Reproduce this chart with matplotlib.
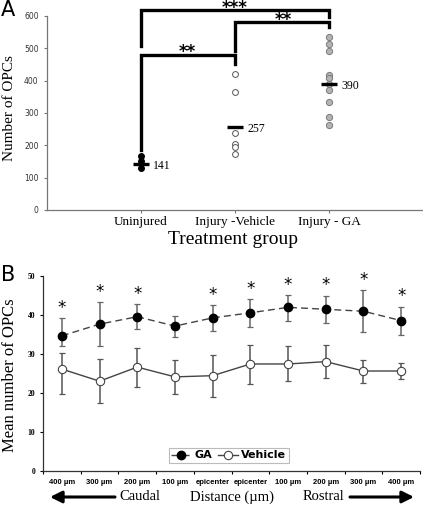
import numpy as np
import matplotlib
matplotlib.use("Agg")
import matplotlib.pyplot as plt

# ---- panel A data ----
groups = ["Uninjured", "Injury -Vehicle", "Injury - GA"]
uninjured_pts = [168, 150, 131]
vehicle_pts = [422, 364, 239, 205, 196, 174]
ga_pts = [535, 513, 491, 417, 408, 389, 371, 334, 288, 262]
group_means = [141, 257, 390]

# ---- panel B data ----
dist_labels = ["400 µm", "300 µm", "200 µm", "100 µm", "epicenter",
               "epicenter", "100 µm", "200 µm", "300 µm", "400 µm"]
ga_mean = [34.6, 37.6, 39.5, 37.1, 39.2, 40.5, 41.9, 41.4, 40.9, 38.5]
ga_hi = [39.1, 43.3, 42.7, 39.7, 42.5, 44.0, 45.0, 44.9, 46.3, 42.1]
ga_lo = [32.1, 31.9, 36.3, 34.4, 35.9, 36.8, 38.5, 37.9, 35.5, 34.9]
veh_mean = [26.1, 23.0, 26.6, 24.1, 24.4, 27.4, 27.4, 28.0, 25.6, 25.6]
veh_hi = [30.1, 28.6, 31.6, 28.4, 29.7, 32.3, 32.0, 32.2, 28.5, 27.7]
veh_lo = [19.7, 17.5, 21.4, 19.8, 19.0, 22.4, 23.0, 23.7, 22.6, 23.5]
signif = [True, True, True, False, True, True, True, True, True, True]

SERIF = "Liberation Serif"
W, H = 423, 505

fig = plt.figure(figsize=(W / 100, H / 100), dpi=100)

# ================= Panel A =================
axA = fig.add_axes([47 / W, 1 - 210 / H, 1 - 47 / W, (210 - 16) / H])
axA.set_xlim(0, 4)
axA.set_ylim(0, 600)

xs = [1, 2, 3]
axA.plot([1] * len(uninjured_pts), uninjured_pts, "o", ms=4, color="black", zorder=3)
axA.plot([2] * len(vehicle_pts), vehicle_pts, "o", ms=4.2, mfc="white", mec="#555555", mew=0.7, zorder=3)
axA.plot([3] * len(ga_pts), ga_pts, "o", ms=4.5, mfc="#b4b4b4", mec="#7a7a7a", mew=0.7, zorder=3)

for x, m in zip(xs, group_means):
    axA.plot([x - 0.085, x + 0.085], [m, m], color="black", lw=2.4, solid_capstyle="butt", zorder=4)
    axA.text(x + 0.13, m - 5, str(m), family=SERIF, fontsize=8.5, va="center", ha="left")

# significance brackets
def bracket(x1, x2, y1, ytop, y2, label, lx, ly):
    axA.plot([x1, x1, x2, x2], [y1, ytop, ytop, y2], color="black", lw=2.4,
             solid_joinstyle="miter", clip_on=False, zorder=2)
    axA.text(lx, ly, label, ha="center", va="baseline", fontsize=12, fontweight="bold",
             clip_on=False)

bracket(1, 2, 187, 478, 450, "**", 1.49, 474)
bracket(2, 3, 492, 582, 566, "**", 2.51, 573)
bracket(1, 3, 506, 618, 598, "***", 2.0, 609)

axA.set_xticks(xs)
axA.set_xticklabels(groups, family=SERIF, fontsize=9.5)
axA.set_yticks(range(0, 601, 100))
axA.tick_params(axis="y", labelsize=5.5, labelcolor="#333333", length=2.5, color="#777777", width=0.8)
axA.tick_params(axis="x", length=2.5, color="#777777", width=0.8, pad=1.5)
for s in ["top", "right"]:
    axA.spines[s].set_visible(False)
for s in ["left", "bottom"]:
    axA.spines[s].set_color("#777777")
    axA.spines[s].set_linewidth(0.9)

fig.text(10 / W, 1 - 108 / H, "Number of OPCs", family=SERIF, fontsize=11,
         rotation=90, ha="center", va="center")
fig.text(233 / W, 1 - 239 / H, "Treatment group", family=SERIF, fontsize=14,
         ha="center", va="center")
fig.text(1 / W, 1 - 10 / H, "A", fontsize=15, ha="left", va="center")

# ================= Panel B =================
axB = fig.add_axes([43 / W, 1 - 471 / H, 377 / W, (471 - 275.7) / H])
axB.set_xlim(0, 10)
axB.set_ylim(0, 50)
xb = np.arange(len(dist_labels)) + 0.5

ga_err = [np.array(ga_mean) - np.array(ga_lo), np.array(ga_hi) - np.array(ga_mean)]
veh_err = [np.array(veh_mean) - np.array(veh_lo), np.array(veh_hi) - np.array(veh_mean)]

axB.errorbar(xb, veh_mean, yerr=veh_err, fmt="none", ecolor="#555555", elinewidth=1.1,
             capsize=2, capthick=0.9, zorder=2)
axB.errorbar(xb, ga_mean, yerr=ga_err, fmt="none", ecolor="#666666", elinewidth=1.1,
             capsize=2, capthick=0.9, zorder=2)
l_ga, = axB.plot(xb, ga_mean, color="#444444", lw=1, ls=(0, (5, 3)), marker="o", ms=6,
                 mfc="black", mec="black", zorder=3, label="GA")
l_veh, = axB.plot(xb, veh_mean, color="#444444", lw=1, ls="-", marker="o", ms=6,
                  mfc="white", mec="#444444", mew=0.8, zorder=3, label="Vehicle")

for x, top, s in zip(xb, ga_hi, signif):
    if s:
        axB.text(x, top + 0.3, "*", ha="center", va="bottom", fontsize=12)

axB.set_xticks(xb)
axB.set_xticklabels(dist_labels, family="Liberation Sans", fontsize=5.5, fontweight="bold")
axB.set_xticks(np.arange(0, 11), minor=True)
axB.tick_params(axis="x", which="major", length=0, pad=6)
axB.tick_params(axis="x", which="minor", length=2.5, width=0.8)
axB.set_yticks(range(0, 51, 10))
axB.set_yticklabels([str(v) for v in range(0, 51, 10)], family=SERIF, fontsize=5.5,
                    fontweight="bold")
axB.tick_params(axis="y", length=2.5, width=0.8, pad=3)
for s in ["top", "right"]:
    axB.spines[s].set_visible(False)
for s in ["left", "bottom"]:
    axB.spines[s].set_linewidth(0.9)
    axB.spines[s].set_color("#333333")

leg = axB.legend(handles=[l_ga, l_veh], loc="lower center", bbox_to_anchor=(0.493, 0.04),
                 ncol=2, frameon=True, fancybox=False, edgecolor="#aaaaaa",
                 prop={"weight": "bold", "size": 8}, handlelength=1.8, handletextpad=0.3,
                 columnspacing=0.5, borderpad=0.25, borderaxespad=0)
leg.get_frame().set_linewidth(0.8)

fig.text(10 / W, 1 - 375 / H, "Mean number of OPCs", family=SERIF, fontsize=12,
         rotation=90, ha="center", va="center")
fig.text(1 / W, 1 - 275 / H, "B", fontsize=15, ha="left", va="center")

ytxt = 1 - 497 / H
fig.text(140 / W, ytxt, "Caudal", family=SERIF, fontsize=10.5, ha="center", va="center")
fig.text(232 / W, ytxt, "Distance (µm)", family=SERIF, fontsize=10.5, ha="center", va="center")
fig.text(323 / W, ytxt, "Rostral", family=SERIF, fontsize=10.5, ha="center", va="center")
arrow_style = dict(arrowstyle="-|>,head_width=0.35,head_length=0.7", lw=2.2, color="black",
                   shrinkA=0, shrinkB=0)
axB.annotate("", xy=(50 / W, ytxt), xytext=(115 / W, ytxt), xycoords="figure fraction",
             textcoords="figure fraction", arrowprops=arrow_style, annotation_clip=False)
axB.annotate("", xy=(414 / W, ytxt), xytext=(350 / W, ytxt), xycoords="figure fraction",
             textcoords="figure fraction", arrowprops=arrow_style, annotation_clip=False)

fig.savefig("out.png", dpi=100)
